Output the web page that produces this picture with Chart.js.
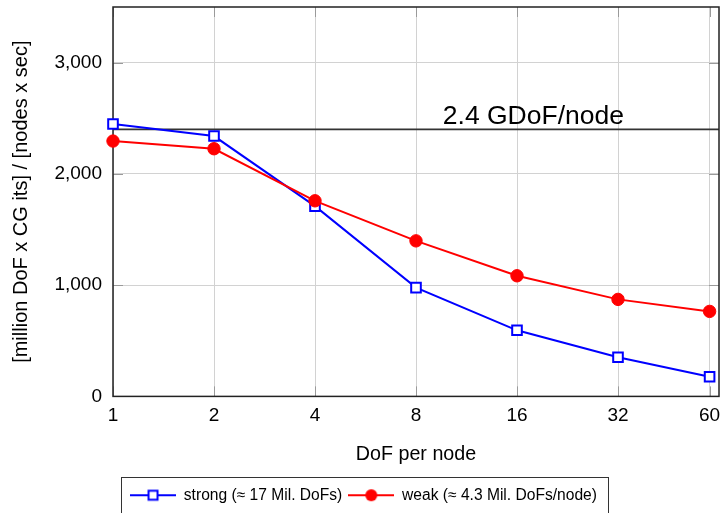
<!DOCTYPE html>
<html>
<head>
<meta charset="utf-8">
<script src="https://cdn.jsdelivr.net/npm/chart.js"></script>
<style>
  html, body { margin: 0; padding: 0; background: #fff; }
  canvas { display: block; }
</style>
</head>
<body>
<canvas id="perfChart" width="725" height="513"></canvas>
<script>
// --- Data ---
const dofPerNode = [1, 2, 4, 8, 16, 32, 60];
const xTickLabels = ['1', '2', '4', '8', '16', '32', '60'];
const strongValues = [2448, 2340, 1710, 978, 594, 352, 177];
const weakValues = [2295, 2226, 1758, 1398, 1084, 872, 764];
const yTickValues = [0, 1000, 2000, 3000];
const peakLine = 2400;
const peakLabel = '2.4 GDoF/node';
const seriesNames = ['strong (\u2248 17 Mil. DoFs)', 'weak (\u2248 4.3 Mil. DoFs/node)'];

const FONT = "'Liberation Sans', Arial, Helvetica, sans-serif";
const BLUE = '#0000ff';
const RED = '#ff0000';

Chart.defaults.font.family = FONT;
Chart.defaults.color = '#000';

// Small line+marker swatches for the legend
function makeSwatch(color, marker) {
    const c = document.createElement('canvas');
    c.width = 46;
    c.height = 14;
    const g = c.getContext('2d');
    g.strokeStyle = color;
    g.lineWidth = 2;
    g.beginPath();
    g.moveTo(0, 7);
    g.lineTo(46, 7);
    g.stroke();
    if (marker === 'rect') {
        g.fillStyle = '#fff';
        g.fillRect(18.5, 2.5, 9, 9);
        g.strokeRect(18.5, 2.5, 9, 9);
    } else {
        g.fillStyle = color;
        g.beginPath();
        g.arc(23, 7, 6, 0, Math.PI * 2);
        g.fill();
    }
    return c;
}
const swatches = [makeSwatch(BLUE, 'rect'), makeSwatch(RED, 'circle')];

// Markers may stick out of the plot (clip: false), so don't let them push the layout
const noOverflow = {
    id: 'noOverflow',
    beforeElementsUpdate(chart) {
        chart.data.datasets.forEach((ds, i) => {
            chart.getDatasetMeta(i).controller.getMaxOverflow = () => 0;
        });
    }
};

// Frame, inner tick marks and the 2.4 GDoF/node reference line
const decorations = {
    id: 'decorations',
    beforeDatasetsDraw(chart) {
        const { ctx, chartArea: a, scales: { x, y } } = chart;
        ctx.save();

        // inner tick marks
        ctx.strokeStyle = '#9a9a9a';
        ctx.lineWidth = 1;
        ctx.beginPath();
        dofPerNode.forEach(v => {
            const px = Math.round(x.getPixelForValue(v)) + 0.5;
            ctx.moveTo(px, a.bottom); ctx.lineTo(px, a.bottom - 10);
            ctx.moveTo(px, a.top); ctx.lineTo(px, a.top + 10);
        });
        yTickValues.forEach(v => {
            const py = Math.round(y.getPixelForValue(v)) + 0.5;
            ctx.moveTo(a.left, py); ctx.lineTo(a.left + 10, py);
            ctx.moveTo(a.right, py); ctx.lineTo(a.right - 10, py);
        });
        ctx.stroke();

        // reference line
        const ly = y.getPixelForValue(peakLine);
        ctx.strokeStyle = '#333';
        ctx.lineWidth = 1.6;
        ctx.beginPath();
        ctx.moveTo(a.left, ly);
        ctx.lineTo(a.right, ly);
        ctx.stroke();

        ctx.fillStyle = '#000';
        ctx.font = '26.5px ' + FONT;
        ctx.textAlign = 'right';
        ctx.textBaseline = 'alphabetic';
        ctx.fillText(peakLabel, a.right - 95, ly - 5);

        // frame
        ctx.strokeStyle = '#222';
        ctx.lineWidth = 1.5;
        ctx.strokeRect(a.left, a.top, a.right - a.left, a.bottom - a.top);
        ctx.restore();
    },
    afterDraw(chart) {
        // border round the legend
        const lg = chart.legend;
        if (!lg || !lg.legendHitBoxes || !lg.legendHitBoxes.length) return;
        const boxes = lg.legendHitBoxes;
        const first = boxes[0];
        const last = boxes[boxes.length - 1];
        const { ctx } = chart;
        ctx.save();
        ctx.strokeStyle = '#333';
        ctx.lineWidth = 1;
        const left = Math.round(first.left - 9) + 0.5;
        const right = Math.round(last.left + last.width + 11) + 0.5;
        const top = Math.round(lg.top - 4) + 0.5;
        ctx.strokeRect(left, top, right - left, chart.height + 10 - top);
        ctx.restore();
    }
};

new Chart(document.getElementById('perfChart'), {
    type: 'line',
    data: {
        datasets: [
            {
                label: seriesNames[0],
                data: dofPerNode.map((n, i) => ({ x: n, y: strongValues[i] })),
                borderColor: BLUE,
                backgroundColor: '#fff',
                borderWidth: 2,
                pointStyle: 'rect',
                pointRadius: 6.8,
                pointBorderWidth: 2,
                pointBackgroundColor: '#fff',
                pointBorderColor: BLUE,
                tension: 0,
                clip: false,
                order: 1
            },
            {
                label: seriesNames[1],
                data: dofPerNode.map((n, i) => ({ x: n, y: weakValues[i] })),
                borderColor: RED,
                backgroundColor: RED,
                borderWidth: 2,
                pointStyle: 'circle',
                pointRadius: 6.2,
                pointBorderWidth: 1,
                pointBackgroundColor: RED,
                pointBorderColor: RED,
                tension: 0,
                clip: false,
                order: 0
            }
        ]
    },
    options: {
        responsive: false,
        animation: false,
        layout: { padding: { top: 7, right: 6, left: 8, bottom: 0 } },
        plugins: {
            tooltip: { enabled: false },
            legend: {
                position: 'bottom',
                labels: {
                    usePointStyle: true,
                    pointStyleWidth: 46,
                    padding: 6,
                    color: '#000',
                    font: { size: 15.6, family: FONT },
                    sort: (a, b) => a.datasetIndex - b.datasetIndex,
                    generateLabels(chart) {
                        const items = Chart.defaults.plugins.legend.labels.generateLabels(chart);
                        items.forEach(it => { it.pointStyle = swatches[it.datasetIndex]; });
                        return items;
                    }
                }
            }
        },
        scales: {
            x: {
                type: 'logarithmic',
                min: 1,
                max: 64,
                afterBuildTicks(scale) {
                    scale.ticks = dofPerNode.map(v => ({ value: v }));
                },
                afterFit(scale) {
                    scale.height = 85;
                    scale.paddingLeft = 0;
                    scale.paddingRight = 0;
                },
                grid: { color: '#d2d2d2', lineWidth: 1, drawTicks: false },
                border: { display: false },
                ticks: {
                    autoSkip: false,
                    maxRotation: 0,
                    padding: 8,
                    color: '#000',
                    font: { size: 19 },
                    callback: (v) => xTickLabels[dofPerNode.indexOf(v)]
                },
                title: {
                    display: true,
                    text: 'DoF per node',
                    color: '#000',
                    font: { size: 19.7 },
                    padding: { top: 0, bottom: 15 }
                }
            },
            y: {
                min: 0,
                max: 3500,
                afterBuildTicks(scale) {
                    scale.ticks = yTickValues.map(v => ({ value: v }));
                },
                afterFit(scale) {
                    scale.width = 105;
                    scale.paddingTop = 0;
                    scale.paddingBottom = 0;
                },
                grid: { color: '#d2d2d2', lineWidth: 1, drawTicks: false },
                border: { display: false },
                ticks: {
                    padding: 11,
                    color: '#000',
                    font: { size: 19 },
                    callback: (v) => v.toLocaleString('en-US')
                },
                title: {
                    display: true,
                    text: '[million DoF x CG its] / [nodes x sec]',
                    color: '#000',
                    font: { size: 20 },
                    padding: { top: 1, bottom: 0 }
                }
            }
        }
    },
    plugins: [noOverflow, decorations]
});
</script>
</body>
</html>
